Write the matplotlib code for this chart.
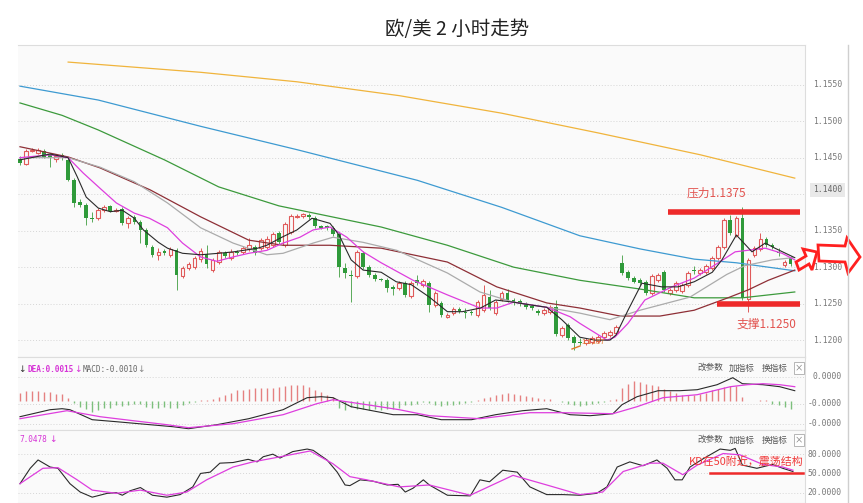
import numpy as np
import matplotlib.pyplot as plt
import matplotlib.transforms as mtransforms
from matplotlib.patches import Polygon
from matplotlib.lines import Line2D

plt.rcParams['font.family'] = ['Noto Sans CJK SC', 'DejaVu Sans']

# ---------------------------
# DATA
# ---------------------------

opens = [1.1448, 1.1441, 1.1459, 1.1456, 1.1459, 1.1454, 1.1448, 1.1454, 1.1447, 1.1419,
         1.1389, 1.1385, 1.1367, 1.1367, 1.1378, 1.1384, 1.1377, 1.1380, 1.1360, 1.1369,
         1.1362, 1.1351, 1.1328, 1.1317, 1.1322, 1.1317, 1.1323, 1.1288, 1.1299, 1.1300,
         1.1311, 1.1318, 1.1296, 1.1307, 1.1319, 1.1313, 1.1321, 1.1321, 1.1325, 1.1328,
         1.1326, 1.1328, 1.1330, 1.1347, 1.1330, 1.1348, 1.1369, 1.1370, 1.1371, 1.1367,
         1.1356, 1.1356, 1.1354, 1.1345, 1.1299, 1.1289, 1.1288, 1.1319, 1.1300, 1.1289,
         1.1284, 1.1282, 1.1273, 1.1271, 1.1278, 1.1260, 1.1282, 1.1276, 1.1278, 1.1248,
         1.1251, 1.1232, 1.1237, 1.1243, 1.1239, 1.1239, 1.1234, 1.1241, 1.1259, 1.1237,
         1.1256, 1.1265, 1.1255, 1.1254, 1.1250, 1.1247, 1.1240, 1.1237, 1.1239, 1.1245,
         1.1207, 1.1221, 1.1204, 1.1197, 1.1196, 1.1197, 1.1199, 1.1204, 1.1207, 1.1210,
         1.1306, 1.1293, 1.1285, 1.1282, 1.1280, 1.1265, 1.1282, 1.1293, 1.1265, 1.1269,
         1.1267, 1.1276, 1.1296, 1.1292, 1.1293, 1.1299, 1.1313, 1.1328, 1.1365, 1.1344,
         1.1367, 1.1256, 1.1317, 1.1325, 1.1339, 1.1330, 1.1321, 1.1303, 1.1313]
closes = [1.1443, 1.1459, 1.1460, 1.1460, 1.1451, 1.1451, 1.1452, 1.1450, 1.1419, 1.1388,
          1.1385, 1.1367, 1.1366, 1.1378, 1.1382, 1.1377, 1.1378, 1.1360, 1.1367, 1.1362,
          1.1351, 1.1330, 1.1317, 1.1321, 1.1319, 1.1325, 1.1289, 1.1299, 1.1304, 1.1313,
          1.1322, 1.1304, 1.1310, 1.1321, 1.1315, 1.1321, 1.1319, 1.1326, 1.1330, 1.1319,
          1.1337, 1.1339, 1.1345, 1.1334, 1.1359, 1.1370, 1.1370, 1.1373, 1.1369, 1.1356,
          1.1354, 1.1354, 1.1345, 1.1300, 1.1292, 1.1288, 1.1321, 1.1300, 1.1289, 1.1284,
          1.1282, 1.1271, 1.1270, 1.1278, 1.1262, 1.1278, 1.1278, 1.1281, 1.1248, 1.1265,
          1.1234, 1.1234, 1.1243, 1.1240, 1.1237, 1.1237, 1.1252, 1.1262, 1.1244, 1.1252,
          1.1265, 1.1255, 1.1251, 1.1250, 1.1245, 1.1244, 1.1237, 1.1241, 1.1245, 1.1208,
          1.1217, 1.1203, 1.1196, 1.1196, 1.1200, 1.1203, 1.1204, 1.1210, 1.1211, 1.1218,
          1.1292, 1.1285, 1.1280, 1.1278, 1.1265, 1.1288, 1.1289, 1.1269, 1.1269, 1.1278,
          1.1276, 1.1292, 1.1295, 1.1296, 1.1302, 1.1313, 1.1328, 1.1365, 1.1347, 1.1367,
          1.1258, 1.1310, 1.1326, 1.1339, 1.1330, 1.1328, 1.1319, 1.1307, 1.1304]
highs = [1.1452, 1.1462, 1.1463, 1.1463, 1.1462, 1.1456, 1.1455, 1.1456, 1.1450, 1.1422,
         1.1393, 1.1388, 1.1376, 1.1381, 1.1385, 1.1385, 1.1381, 1.1382, 1.1370, 1.1371,
         1.1365, 1.1354, 1.1330, 1.1326, 1.1325, 1.1328, 1.1326, 1.1302, 1.1307, 1.1315,
         1.1326, 1.1330, 1.1313, 1.1323, 1.1322, 1.1325, 1.1323, 1.1329, 1.1340, 1.1330,
         1.1340, 1.1343, 1.1348, 1.1350, 1.1362, 1.1373, 1.1373, 1.1374, 1.1374, 1.1370,
         1.1358, 1.1358, 1.1356, 1.1348, 1.1306, 1.1296, 1.1323, 1.1322, 1.1303, 1.1292,
         1.1285, 1.1285, 1.1276, 1.1281, 1.1281, 1.1281, 1.1289, 1.1284, 1.1281, 1.1267,
         1.1254, 1.1237, 1.1245, 1.1245, 1.1244, 1.1241, 1.1255, 1.1276, 1.1269, 1.1255,
         1.1267, 1.1270, 1.1258, 1.1256, 1.1252, 1.1250, 1.1243, 1.1244, 1.1248, 1.1255,
         1.1219, 1.1223, 1.1207, 1.1203, 1.1203, 1.1206, 1.1207, 1.1213, 1.1214, 1.1221,
         1.1317, 1.1296, 1.1288, 1.1285, 1.1282, 1.1291, 1.1292, 1.1296, 1.1271, 1.1281,
         1.1278, 1.1295, 1.1302, 1.1299, 1.1304, 1.1315, 1.1330, 1.1367, 1.1371, 1.1370,
         1.1382, 1.1313, 1.1329, 1.1347, 1.1341, 1.1333, 1.1326, 1.1310, 1.1315]
lows = [1.1440, 1.1440, 1.1458, 1.1455, 1.1450, 1.1437, 1.1444, 1.1447, 1.1418, 1.1382,
        1.1382, 1.1358, 1.1362, 1.1365, 1.1376, 1.1376, 1.1376, 1.1358, 1.1354, 1.1359,
        1.1333, 1.1328, 1.1314, 1.1310, 1.1317, 1.1314, 1.1269, 1.1285, 1.1296, 1.1297,
        1.1307, 1.1299, 1.1293, 1.1304, 1.1313, 1.1310, 1.1317, 1.1318, 1.1322, 1.1317,
        1.1323, 1.1325, 1.1328, 1.1332, 1.1328, 1.1345, 1.1367, 1.1367, 1.1366, 1.1354,
        1.1352, 1.1351, 1.1343, 1.1287, 1.1285, 1.1252, 1.1285, 1.1297, 1.1287, 1.1281,
        1.1281, 1.1266, 1.1262, 1.1269, 1.1259, 1.1258, 1.1276, 1.1273, 1.1239, 1.1245,
        1.1232, 1.1230, 1.1234, 1.1237, 1.1230, 1.1234, 1.1232, 1.1239, 1.1241, 1.1234,
        1.1254, 1.1252, 1.1248, 1.1247, 1.1243, 1.1241, 1.1234, 1.1234, 1.1236, 1.1206,
        1.1204, 1.1200, 1.1187, 1.1193, 1.1193, 1.1195, 1.1196, 1.1202, 1.1204, 1.1207,
        1.1289, 1.1282, 1.1278, 1.1276, 1.1262, 1.1262, 1.1280, 1.1266, 1.1262, 1.1266,
        1.1265, 1.1273, 1.1291, 1.1289, 1.1291, 1.1296, 1.1310, 1.1325, 1.1344, 1.1341,
        1.1255, 1.1239, 1.1314, 1.1322, 1.1328, 1.1325, 1.1315, 1.1300, 1.1302]

# moving averages: (candle index, price)
ma5_x = [0, 5, 8, 9.5, 11, 13, 15, 17, 19, 20.5, 23, 24.5, 27, 30, 33, 35.5, 39.5, 41, 43.5,
         46, 48.5, 51.5, 53, 55, 57, 60, 62.5, 65, 68, 71, 73.5, 76.5, 79, 82, 85, 87.5, 90,
         93, 95.5, 98, 99, 101, 103.3, 106.6, 109.3, 112, 115, 116.6, 119, 121.6, 123.8,
         125.4, 128.7]
ma5_y = [1.1447, 1.1455, 1.1450, 1.1424, 1.1396, 1.1381, 1.1376, 1.1378, 1.1367, 1.1351,
         1.1334, 1.1326, 1.1319, 1.1317, 1.1319, 1.1321, 1.1326, 1.1330, 1.1341, 1.1351,
         1.1367, 1.1360, 1.1344, 1.1310, 1.1296, 1.1293, 1.1280, 1.1276, 1.1259, 1.1239,
         1.1239, 1.1244, 1.1255, 1.1252, 1.1248, 1.1245, 1.1228, 1.1204, 1.1200, 1.1200,
         1.1207, 1.1241, 1.1278, 1.1273, 1.1273, 1.1280, 1.1293, 1.1310, 1.1344, 1.1321,
         1.1333, 1.1326, 1.1313]
ma10_x = [0, 5, 8, 10.5, 13.3, 16, 19, 21.5, 24.5, 27, 30, 32.7, 35.4, 38, 41, 43.7, 46.5,
          48.7, 51.5, 54.3, 57, 60, 65.3, 71, 76.4, 79.2, 82, 87.5, 91.4, 93, 97.5, 98.8,
          101, 103.8, 108.3, 112, 116, 118.8, 123.8, 126.6, 128.7]
ma10_y = [1.1450, 1.1454, 1.1450, 1.1429, 1.1408, 1.1388, 1.1374, 1.1367, 1.1354, 1.1333,
          1.1314, 1.1308, 1.1314, 1.1319, 1.1323, 1.1333, 1.1341, 1.1351, 1.1355, 1.1341,
          1.1321, 1.1306, 1.1282, 1.1262, 1.1244, 1.1244, 1.1252, 1.1245, 1.1232, 1.1223,
          1.1200, 1.1204, 1.1223, 1.1255, 1.1273, 1.1285, 1.1306, 1.1321, 1.1326, 1.1319,
          1.1310]
ma20_x = [0, 8, 13.3, 19, 24.5, 30, 35.4, 41, 43.7, 48.7, 52, 57, 62.6, 71, 76.4, 82, 87.5,
          93, 98, 103, 111.3, 117.4, 120.4, 125, 128.4]
ma20_y = [1.1450, 1.1450, 1.1437, 1.1417, 1.1388, 1.1354, 1.1333, 1.1317, 1.1319, 1.1333,
          1.1341, 1.1334, 1.1323, 1.1292, 1.1266, 1.1252, 1.1245, 1.1237, 1.1228, 1.1241,
          1.1259, 1.1290, 1.1302, 1.1310, 1.1313]
ma30_x = [0, 8, 13.3, 21.6, 30, 38, 43.7, 51.5, 60, 71, 79.2, 87.5, 93, 99.7, 106.3, 112,
          117.6, 121, 124.3, 128.7]
ma30_y = [1.1465, 1.1451, 1.1436, 1.1406, 1.1369, 1.1337, 1.1330, 1.1330, 1.1326, 1.1307,
          1.1273, 1.1251, 1.1244, 1.1233, 1.1233, 1.1241, 1.1258, 1.1269, 1.1282, 1.1296]
ma60_x = [0, 7, 13, 24, 33, 43, 60, 71, 82, 93, 103, 112, 120, 128.7]
ma60_y = [1.1525, 1.1508, 1.1488, 1.1447, 1.1410, 1.1384, 1.1355, 1.1330, 1.1300, 1.1282,
          1.1270, 1.1258, 1.1258, 1.1266]
ma120_x = [0, 13, 30, 46, 66, 80, 93, 103, 112, 119, 128.7]
ma120_y = [1.1548, 1.1529, 1.1493, 1.1461, 1.1419, 1.1382, 1.1343, 1.1325, 1.1311, 1.1306,
           1.1295]
ma240_x = [8, 30, 46, 63, 80, 96, 113, 128.7]
ma240_y = [1.1581, 1.1567, 1.1554, 1.1535, 1.1511, 1.1484, 1.1454, 1.1422]

price_ticks = [1.1200, 1.1250, 1.1300, 1.1350, 1.1400, 1.1450, 1.1500, 1.1550]
current_price_label = '1.1400'
resistance = 1.1375
support = 1.1250
low_mark = 1.1187

# MACD, in units of 0.00001
macd_hist = [8, 10, 10, 10, 9, 9, 7, 7, 3, -2, -6, -8, -11, -9, -7, -7, -4, -5, -4, -3,
             -3, -6, -7, -7, -6, -7, -7, -4, -2, -1, 1, 1, 2, 4, 6, 8, 11, 11, 12, 13,
             13, 13, 13, 14, 15, 16, 16, 16, 14, 11, 9, 6, 4, -7, -9, -6, -8, -8, -9, -8,
             -9, -8, -8, -7, -4, -4, -3, -1, -2, -4, -5, -4, -4, -3, -2, -1, 1, 3, 4, 6,
             7, 8, 7, 6, 5, 4, 3, 2, 2, 0, -1, -3, -4, -5, -4, -3, -2, -1, 1, 2,
             13, 17, 20, 19, 17, 16, 15, 12, 10, 8, 6, 6, 6, 7, 8, 11, 12, 14, 15, 15,
             4, 0, 0, 1, 1, -3, -4, -6, -8]
dif_x = [0, 5, 7, 8.3, 12, 16, 21.6, 25.4, 28, 32.7, 38, 43.7, 47.7, 50, 52, 55, 57.6, 62,
         66, 70, 75, 79, 83.5, 87.5, 91.4, 94.7, 98.5, 100, 102.5, 106, 109.6, 112.5, 115.8,
         118.4, 120, 123.4, 126.2, 128.7]
dif_y = [-16, -9, -8, -9, -19, -21, -24, -26, -28, -24, -18, -9, 3, 4, 3, -6, -9, -14, -14,
         -19, -19, -14, -10, -8, -14, -15, -13, -4, 4, 10, 10, 11, 16, 23, 17, 16, 14, 10]
dea_x = [0, 7.8, 13.3, 18.8, 24.4, 28, 35.4, 43.7, 49.3, 52, 57.6, 63, 68, 76.4, 84.7, 90.2,
         98.5, 102.5, 106.8, 112.5, 118, 120.8, 123.4, 126.2, 128.7]
dea_y = [-18, -10, -16, -20, -24, -27, -23, -14, -3, 1, -4, -9, -15, -18, -12, -12, -13, -6,
         3, 6, 14, 16, 17, 16, 14]
macd_ticks = [24, -3, -23]
macd_labels = ['0.0000', '-0.0000', '-0.0000']

# KD
k_x = [0, 1.7, 3, 5, 6.3, 8.3, 10, 12, 14.5, 16, 17, 18.3, 20, 22, 24.4, 26.6, 28.7, 30,
       31.6, 33.2, 35.4, 37.9, 39.4, 40.4, 42, 43.2, 45.3, 47.7, 48.7, 51, 52.7, 54, 54.8,
       56.5, 58.6, 61, 62.8, 64, 65.3, 67, 68, 71, 74.8, 76.4, 78, 80.2, 82.6, 84.7, 87.5,
       90.2, 93, 95.8, 97.5, 99.2, 101.3, 103.5, 105.8, 107.5, 108.8, 110, 111.3, 113.5,
       116.3, 118, 118.8, 120, 122.4, 125, 126.7, 128.4]
k_y = [34, 58, 71, 60, 58, 34, 21, 13, 19, 20, 16, 23, 28, 16, 13, 17, 29, 50, 52, 66, 67,
       72, 68, 76, 80, 74, 84, 88, 86, 71, 52, 32, 31, 40, 38, 32, 33, 21, 27, 40, 32, 16,
       15, 40, 37, 55, 52, 29, 17, 17, 16, 19, 29, 60, 68, 62, 71, 58, 40, 40, 60, 73, 88,
       86, 89, 63, 58, 64, 58, 53]
d_x = [0, 3.8, 6.3, 9.5, 12, 16, 20, 24.4, 27.7, 31, 35.4, 38.7, 42.7, 48.2, 52, 54.8, 57.6,
       63, 68, 74.8, 81.9, 87.5, 93, 96.8, 100.2, 104.7, 106.8, 110.1, 112.5, 116.8, 119.6,
       123.4, 126.7, 128.4]
d_y = [34, 58, 59, 40, 24, 19, 24, 16, 21, 40, 60, 68, 75, 85, 65, 45, 40, 29, 32, 16, 47,
       32, 17, 21, 53, 66, 66, 48, 63, 81, 79, 64, 60, 55]
kd_ticks = [80, 50, 20]

# ---------------------------
# LAYOUT (pixel based)
# ---------------------------

W, H = 863, 503
X0, X1 = 18, 805
PANEL_BG = '#fafafa'
RED = '#e05a5a'
GREEN = '#2f9a3a'
GRID = '#d6d6d6'


def fx(x):
    return x / W


def fy(y):
    return 1 - y / H


fig = plt.figure(figsize=(W / 100, H / 100), dpi=100)
fig.patch.set_facecolor('white')

ax = fig.add_axes([fx(X0), fy(357), (X1 - X0) / W, (357 - 45) / H])
ax_macd = fig.add_axes([fx(X0), fy(430), (X1 - X0) / W, (430 - 357) / H])
ax_kd = fig.add_axes([fx(X0), fy(503), (X1 - X0) / W, (503 - 430) / H])

for a in (ax, ax_macd, ax_kd):
    a.set_facecolor(PANEL_BG)
    a.set_xlim(-0.33, 130.4)
    a.set_xticks([])
    a.set_yticks([])
    a.spines['left'].set_visible(False)
    for s in ('top', 'bottom', 'right'):
        a.spines[s].set_color('#dddddd')
        a.spines[s].set_linewidth(0.8)


def right_labels(axis, values, labels, scale=1.0, skip=None):
    trans = mtransforms.blended_transform_factory(axis.transAxes, axis.transData)
    for v, s in zip(values, labels):
        axis.axhline(v * scale, color=GRID, lw=0.7, ls=(0, (1, 2)), zorder=1)
        if s == skip:
            continue
        axis.text(1 + 37 / (X1 - X0), v * scale, s, transform=trans, ha='right',
                  va='center', fontsize=5.8, color='#777777',
                  family='DejaVu Sans Mono', clip_on=False)


# ---------------------------
# MAIN PANEL
# ---------------------------

ax.set_ylim(1.11769, 1.16044)
o = np.array(opens)
c = np.array(closes)
hi = np.array(highs)
lo = np.array(lows)
idx = np.arange(len(o))
up = c >= o
dn = ~up

ax.vlines(idx[up], lo[up], hi[up], color=RED, lw=0.7, zorder=2)
ax.vlines(idx[dn], lo[dn], hi[dn], color='#5aaa5a', lw=0.7, zorder=2)
ax.bar(idx[up], np.maximum(c - o, 0.00005)[up], bottom=o[up], width=0.62,
       facecolor=PANEL_BG, edgecolor=RED, lw=0.8, zorder=3)
ax.bar(idx[dn], np.maximum(o - c, 0.00005)[dn], bottom=c[dn], width=0.62,
       color=GREEN, lw=0, zorder=3)

ax.plot(ma240_x, ma240_y, color='#f0b43c', lw=0.9, zorder=4)
ax.plot(ma120_x, ma120_y, color='#3d9ad1', lw=0.9, zorder=4)
ax.plot(ma60_x, ma60_y, color='#3c9a3c', lw=0.9, zorder=4)
ax.plot(ma30_x, ma30_y, color='#8e2f36', lw=0.9, zorder=4)
ax.plot(ma20_x, ma20_y, color='#ababab', lw=0.9, zorder=4)
ax.plot(ma10_x, ma10_y, color='#de3ede', lw=0.9, zorder=5)
ax.plot(ma5_x, ma5_y, color='#2a2a2a', lw=0.8, zorder=6)

# the 1.1400 level is shown as the highlighted current-price label
right_labels(ax, price_ticks, [f'{v:.4f}' for v in price_ticks], skip=current_price_label)
fig.text(fx(842), fy(190), current_price_label, ha='right', va='center', fontsize=5.8,
         color='#666666', family='DejaVu Sans Mono',
         bbox=dict(boxstyle='square,pad=0.35', fc='#e9e9e9', ec='none'))

# support / resistance
ax.hlines(resistance, 107.6, 129.6, color='#ee2a2a', lw=4, zorder=7)
ax.hlines(support, 115.7, 129.6, color='#ee2a2a', lw=4, zorder=7)
fig.text(fx(716), fy(193), f'压力{resistance:.4f}', ha='center', va='center',
         fontsize=8.5, color='#e2534f')
fig.text(fx(767), fy(324), f'支撑{support:.4f}', ha='center', va='center',
         fontsize=8.5, color='#e2534f')
fig.text(fx(581), fy(342), f'{low_mark:.4f}', ha='left', va='center', fontsize=5.5,
         color='#e07a2a')
fig.add_artist(Line2D([fx(572), fx(580)], [fy(349), fy(346)], color='#e07a2a', lw=1))

# red hollow arrows
small_arrow = [(796, 262), (806, 256), (803, 249), (817, 252), (812, 270), (809, 264),
               (799, 270)]
big_arrow = [(818, 245), (845, 246), (847, 238), (860, 257), (848, 273), (845, 262),
             (819, 261)]
for pts in (small_arrow, big_arrow):
    fig.add_artist(Polygon([(fx(x), fy(y)) for x, y in pts], closed=True, fill=False,
                           ec='#ff2020', lw=2, transform=fig.transFigure))

# ---------------------------
# MACD PANEL
# ---------------------------

scale = 1e-5
ax_macd.set_ylim(-29.3 * scale, 43.7 * scale)
hist = np.array(macd_hist) * scale
pos = hist >= 0
ax_macd.vlines(idx[pos], 0, hist[pos], color='#e58080', lw=1.0, zorder=2)
ax_macd.vlines(idx[~pos], 0, hist[~pos], color='#7cbf7c', lw=1.0, zorder=2)
ax_macd.plot(dif_x, np.array(dif_y) * scale, color='#2a2a2a', lw=0.8, zorder=3)
ax_macd.plot(dea_x, np.array(dea_y) * scale, color='#de3ede', lw=0.9, zorder=3)
right_labels(ax_macd, macd_ticks, macd_labels, scale)

hy = fy(369)
fig.text(fx(18), hy, '↓', fontsize=6.5, color='#333333', va='center', family='DejaVu Sans')
fig.text(fx(27), hy, 'DEA:0.0015', fontsize=5.6, color='#d633d6', va='center',
         family='DejaVu Sans Mono', weight='bold')
fig.text(fx(74), hy, '↓', fontsize=6.5, color='#d633d6', va='center', family='DejaVu Sans')
fig.text(fx(83), hy, 'MACD:-0.0010', fontsize=5.6, color='#666666', va='center',
         family='DejaVu Sans Mono')
fig.text(fx(137), hy, '↓', fontsize=6.5, color='#888888', va='center', family='DejaVu Sans')

# ---------------------------
# KD PANEL
# ---------------------------

ax_kd.set_ylim(3.9, 117.7)
ax_kd.plot(k_x, k_y, color='#2a2a2a', lw=0.8, zorder=3)
ax_kd.plot(d_x, d_y, color='#de3ede', lw=0.9, zorder=3)
right_labels(ax_kd, kd_ticks, [f'{v:.4f}' for v in kd_ticks])

ky = fy(440)
fig.text(fx(19), ky, '7.0478', fontsize=5.6, color='#d633d6', va='center',
         family='DejaVu Sans Mono')
fig.text(fx(49), ky, '↓', fontsize=6.5, color='#d633d6', va='center', family='DejaVu Sans')

fig.text(fx(746), fy(461), 'KD在50附近，震荡结构', ha='center', va='center',
         fontsize=7.9, color='#f03a3a')
fig.add_artist(Line2D([fx(710), fx(803)], [fy(473), fy(473)], color='#ee2a2a', lw=1.8))

# panel tool buttons
for yy in (368, 440):
    for xx, s in ((698, '改参数'), (729, '加指标'), (762, '换指标')):
        fig.text(fx(xx), fy(yy), s, fontsize=6.2, color='#555555', va='center')
    fig.text(fx(799), fy(yy), '×', fontsize=6, color='#777777', va='center', ha='center',
             bbox=dict(boxstyle='square,pad=0.15', fc='white', ec='#aaaaaa', lw=0.6))

# right border and title
fig.add_artist(Line2D([fx(848), fx(848)], [fy(45), fy(503)], color='#cfcfcf', lw=1))
fig.text(fx(457), fy(30), '欧/美 2 小时走势', ha='center', va='center', fontsize=14,
         color='#222222')

fig.savefig('out.png', dpi=100, facecolor='white')
